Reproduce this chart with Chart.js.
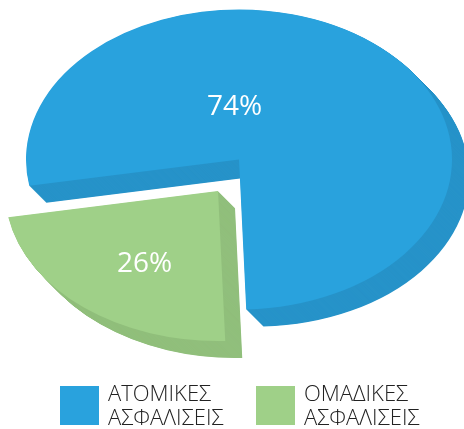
<!DOCTYPE html>
<html><head><meta charset="utf-8">
<style>html,body{margin:0;padding:0;background:#fff;overflow:hidden}canvas{display:block}</style>
<script src="https://cdn.jsdelivr.net/npm/chart.js@4"></script>
</head><body><canvas id="c" width="464" height="429"></canvas>
<script>
const categories = [["ΑΤΟΜΙΚΕΣ","ΑΣΦΑΛΙΣΕΙΣ"],["ΟΜΑΔΙΚΕΣ","ΑΣΦΑΛΙΣΕΙΣ"]];
const values = [74, 26];
const sliceColors = ["#29a2dd", "#9fd088"];
const sideColors = ["#2793c9", "#91bf7c"];
const centers = [[239,159.5],[218,191]];
const labelPos = [[234.5,107],[144.5,264]];
const legendX = [60,256];
const RX = 213, RY = 150, DEPTH = 17;
const SKEW = [5.85*Math.PI/180, -5.85*Math.PI/180]; // perspective distortion of the slice edges
const FONT = '"Open Sans", sans-serif';

function drawArc(ctx, arc, i, color, ox, oy){
  const clone = Object.create(arc);
  clone.options = Object.assign({}, {
    backgroundColor: color, borderColor: color, borderWidth: 0, borderAlign: 'center',
    borderJoinStyle: 'round', borderRadius: 0, offset: 0, spacing: 0, circular: true,
    borderDash: [], borderDashOffset: 0
  });
  clone.startAngle = arc.startAngle - SKEW[i];
  clone.endAngle = arc.endAngle + SKEW[i];
  ctx.save();
  ctx.translate(centers[i][0]+ox, centers[i][1]+oy);
  ctx.scale(RX/arc.outerRadius, RY/arc.outerRadius);
  ctx.translate(-arc.x, -arc.y);
  clone.draw(ctx);
  ctx.restore();
}

const pie3d = {
  id:'pie3d',
  beforeDatasetDraw(chart, args){
    const ctx = chart.ctx, arcs = args.meta.data;
    arcs.forEach((arc,i)=>{
      for(let d=DEPTH; d>0; d-=0.5) drawArc(ctx, arc, i, sideColors[i], d, d);
      drawArc(ctx, arc, i, sliceColors[i], 0, 0);
    });
    return false;
  },
  afterDraw(chart){
    const ctx = chart.ctx;
    ctx.save();
    ctx.fillStyle = '#fff';
    ctx.font = '28px '+FONT;
    ctx.textAlign='center'; ctx.textBaseline='middle';
    values.forEach((v,i)=>ctx.fillText(v+'%', labelPos[i][0], labelPos[i][1]));
    ctx.textAlign='left'; ctx.textBaseline='alphabetic';
    categories.forEach((lines,i)=>{
      ctx.fillStyle = sliceColors[i];
      ctx.fillRect(legendX[i],386,39,39);
      ctx.fillStyle = '#222';
      ctx.font = '300 22px '+FONT;
      lines.forEach((t,j)=>ctx.fillText(t, legendX[i]+48, 401+j*24));
    });
    ctx.restore();
  }
};

new Chart(document.getElementById('c'),{
  type:'pie',
  data:{labels:categories.map(l=>l.join(' ')),datasets:[{data:values,backgroundColor:sliceColors,borderWidth:0}]},
  options:{
    responsive:false,animation:false,rotation:265.8,
    layout:{padding:0},
    plugins:{legend:{display:false},tooltip:{enabled:false}}
  },
  plugins:[pie3d]
});
</script></body></html>
